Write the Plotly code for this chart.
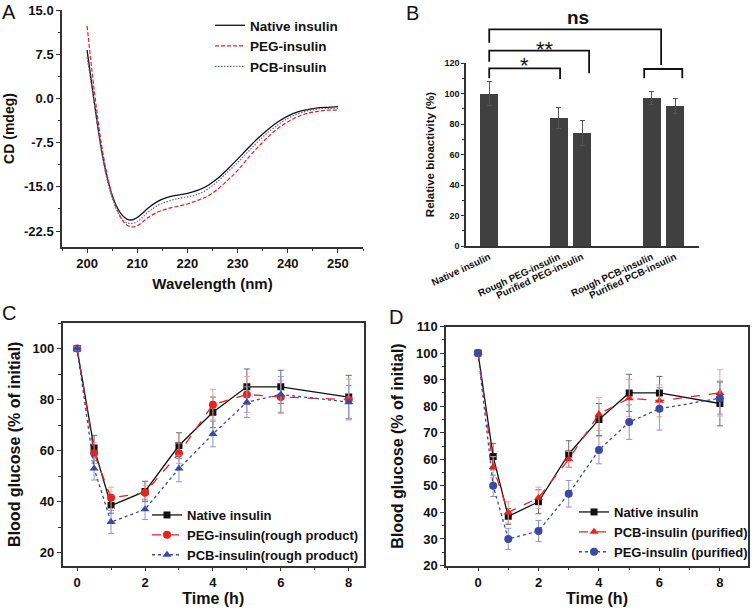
import plotly.graph_objects as go

W, H = 752, 613
FONT = "Liberation Sans, Arial, sans-serif"

# ---------------- Panel A: CD spectra ----------------
wavelength = [200, 201, 202, 203, 204, 205, 206, 207, 208, 209, 210, 211, 212, 214, 216,
              218, 220, 222, 224, 226, 228, 230, 232, 234, 236, 238, 240, 242, 244, 246, 248, 250]
cd_native = [8.2, 2.0, -4.0, -9.3, -13.4, -16.4, -18.5, -19.8, -20.5, -20.6, -20.2, -19.5, -18.7,
             -17.5, -16.8, -16.4, -16.1, -15.6, -14.8, -13.6, -12.0, -10.3, -8.5, -6.8, -5.3,
             -4.0, -3.0, -2.3, -1.9, -1.6, -1.5, -1.4]
cd_peg = [12.3, 4.5, -2.5, -8.5, -13.0, -16.5, -18.9, -20.6, -21.5, -21.8, -21.6, -21.0, -20.3,
          -19.3, -18.7, -18.3, -17.9, -17.3, -16.6, -15.4, -13.9, -12.2, -10.2, -8.3, -6.6,
          -5.1, -4.0, -3.1, -2.5, -2.2, -2.0, -2.0]
cd_pcb = [7.0, 1.5, -4.3, -9.6, -13.8, -16.9, -19.1, -20.5, -21.1, -21.2, -20.9, -20.2, -19.4,
          -18.2, -17.5, -17.0, -16.7, -16.3, -15.4, -14.1, -12.5, -10.9, -9.1, -7.4, -5.8,
          -4.5, -3.4, -2.6, -2.1, -1.8, -1.7, -1.7]
a_names = ["Native insulin", "PEG-insulin", "PCB-insulin"]

# ---------------- Panel B: relative bioactivity ----------------
b_labels = ["Native insulin", "Rough PEG-insulin", "Purified PEG-insulin",
            "Rough PCB-insulin", "Purified PCB-insulin"]
b_pos = [0, 3, 4, 7, 8]
b_values = [100, 84, 74, 97, 92]
b_errors = [8, 7, 8, 4, 5]

# ---------------- Panel C: blood glucose (rough products) ----------------
time_h = [0, 0.5, 1, 2, 3, 4, 5, 6, 8]
c_native = [100, 61, 38.5, 44, 62, 75, 85, 85, 81]
c_native_err = [0.8, 5, 3, 4, 5, 6, 7, 6.5, 8.5]
c_peg = [100, 59, 41.5, 43.5, 59, 78, 82, 81, 80]
c_peg_err = [0.8, 4, 4.2, 3, 4, 6, 7, 6.5, 8]
c_pcb = [100, 53, 32, 37, 53, 66.5, 79, 82, 79]
c_pcb_err = [0.8, 4.5, 4.5, 4, 5.2, 5, 6, 7, 6.5]
c_names = ["Native insulin", "PEG-insulin(rough product)", "PCB-insulin(rough product)"]

# ---------------- Panel D: blood glucose (purified) ----------------
d_native = [100, 61, 38.5, 44, 62, 75, 85, 85, 81]
d_native_err = [0.8, 5, 3, 4.5, 5, 6, 7, 6.2, 8.4]
d_pcb = [100, 57, 40, 45.5, 60, 77, 83, 82, 85]
d_pcb_err = [0.8, 4, 4, 4, 3, 6.2, 7, 6, 8.7]
d_peg = [100, 50, 30, 33, 47, 63.5, 74, 79, 83]
d_peg_err = [0.8, 4, 4, 4, 5, 5.2, 6.5, 8, 6]
d_names = ["Native insulin", "PCB-insulin (purified)", "PEG-insulin (purified)"]

BLACK = "#111111"
RED = "#e8231f"
BLUE = "#3a4aa0"
RED_LIGHT = "#e9a3a0"
BLUE_LIGHT = "#8e95c8"
GREY_ERR = "#6a6a6a"
BAR = "#404040"
AXC = "#333333"

fig = go.Figure()

# ---- A traces ----
fig.add_trace(go.Scatter(x=wavelength, y=cd_native, mode="lines", name=a_names[0],
                         line=dict(color=BLACK, width=1.3, shape="spline"),
                         xaxis="x", yaxis="y", legend="legend"))
fig.add_trace(go.Scatter(x=wavelength, y=cd_peg, mode="lines", name=a_names[1],
                         line=dict(color=RED, width=1.2, dash="4px,2px", shape="spline"),
                         xaxis="x", yaxis="y", legend="legend"))
fig.add_trace(go.Scatter(x=wavelength, y=cd_pcb, mode="lines", name=a_names[2],
                         line=dict(color="#5c6aa8", width=1.2, dash="1.5px,1.5px", shape="spline"),
                         xaxis="x", yaxis="y", legend="legend"))

# ---- B bars ----
fig.add_trace(go.Bar(x=b_pos, y=b_values, width=0.77, marker=dict(color=BAR, line=dict(width=0)),
                     error_y=dict(type="data", array=b_errors, color="#555555", thickness=1, width=2.5),
                     showlegend=False, xaxis="x2", yaxis="y2"))


def glucose(x, y, err, name, color, ecolor, symbol, dash, xa, ya, leg, msize):
    return go.Scatter(x=x, y=y, mode="lines+markers", name=name,
                      line=dict(color=color, width=1.3, dash=dash),
                      marker=dict(symbol=symbol, size=msize, color=color),
                      error_y=dict(type="data", array=err, color=ecolor, thickness=1, width=3),
                      xaxis=xa, yaxis=ya, legend=leg)


# ---- C traces ----
fig.add_trace(glucose(time_h, c_native, c_native_err, c_names[0], BLACK, GREY_ERR, "square", "solid", "x3", "y3", "legend2", 7))
fig.add_trace(glucose(time_h, c_peg, c_peg_err, c_names[1], RED, RED_LIGHT, "circle", "dash", "x3", "y3", "legend2", 8))
fig.add_trace(glucose(time_h, c_pcb, c_pcb_err, c_names[2], BLUE, BLUE_LIGHT, "triangle-up", "dot", "x3", "y3", "legend2", 8))

# ---- D traces ----
fig.add_trace(glucose(time_h, d_native, d_native_err, d_names[0], BLACK, GREY_ERR, "square", "solid", "x4", "y4", "legend3", 7))
fig.add_trace(glucose(time_h, d_pcb, d_pcb_err, d_names[1], RED, RED_LIGHT, "triangle-up", "dash", "x4", "y4", "legend3", 8))
fig.add_trace(glucose(time_h, d_peg, d_peg_err, d_names[2], BLUE, BLUE_LIGHT, "circle", "dot", "x4", "y4", "legend3", 8))


def px_x(p):
    return p / W


def px_y(p):
    return 1 - p / H


tickf = dict(family=FONT, size=13, color="#111", weight="bold")
titlef = dict(family=FONT, size=15, color="#111", weight="bold")

common = dict(showgrid=False, zeroline=False, showline=True, linecolor=AXC, linewidth=1.5,
              ticks="outside", ticklen=4, tickwidth=1.2, tickcolor=AXC, automargin=False)

layout = dict(
    width=W, height=H, margin=dict(l=0, r=0, t=0, b=0, autoexpand=False),
    paper_bgcolor="white", plot_bgcolor="white",
    font=dict(family=FONT, color="#111"),
    bargap=0,
    # Panel A
    xaxis=dict(domain=[px_x(62), px_x(363)], range=[195, 255], anchor="y",
               tickvals=[200, 210, 220, 230, 240, 250], tickfont=tickf,
               minor=dict(dtick=5, tick0=195, ticks="outside", ticklen=2.5, tickcolor=AXC),
               title=dict(text="Wavelength (nm)", font=titlef, standoff=8), **common),
    yaxis=dict(domain=[px_y(247), px_y(10)], range=[-25.2, 15], anchor="x",
               tickvals=[-22.5, -15, -7.5, 0, 7.5, 15], ticktext=["-22.5", "-15.0", "-7.5", "0.0", "7.5", "15.0"],
               tickfont=tickf,
               minor=dict(dtick=3.75, tick0=-22.5, ticks="outside", ticklen=2.5, tickcolor=AXC),
               title=dict(text="CD (mdeg)", font=dict(family=FONT, size=14, color="#111", weight="bold"), standoff=6),
               **common),
    # Panel B
    xaxis2=dict(domain=[px_x(466), px_x(699)], range=[-1, 9.03], anchor="y2",
                tickvals=b_pos, ticktext=b_labels, tickangle=-25, ticks="",
                tickfont=dict(family=FONT, size=9.8, color="#111", weight="bold"),
                showgrid=False, zeroline=False, showline=True, linecolor=AXC, linewidth=1.5,
                automargin=False),
    yaxis2=dict(domain=[px_y(246), px_y(63)], range=[0, 120], anchor="x2",
                dtick=20, tickfont=dict(family=FONT, size=9, color="#111", weight="bold"),
                minor=dict(dtick=10, ticks="outside", ticklen=2, tickcolor=AXC),
                title=dict(text="Relative bioactivity (%)", font=dict(family=FONT, size=11.5, color="#111", weight="bold"), standoff=7),
                showgrid=False, zeroline=False, showline=True, linecolor=AXC, linewidth=1.5,
                ticks="outside", ticklen=3, tickwidth=1, tickcolor=AXC, automargin=False),
    # Panel C
    xaxis3=dict(domain=[px_x(62.5), px_x(364)], range=[-0.43, 8.45], anchor="y3", mirror=True,
                tickvals=[0, 2, 4, 6, 8], tickfont=tickf,
                minor=dict(dtick=1, tick0=0, ticks="outside", ticklen=2.5, tickcolor=AXC),
                title=dict(text="Time (h)", font=dict(family=FONT, size=16, color="#111", weight="bold"), standoff=4),
                **common),
    yaxis3=dict(domain=[px_y(565.5), px_y(323)], range=[15, 110], anchor="x3", mirror=True,
                tickvals=[20, 40, 60, 80, 100], tickfont=tickf,
                minor=dict(dtick=10, tick0=0, ticks="outside", ticklen=2.5, tickcolor=AXC),
                title=dict(text="Blood glucose (% of initial)", font=dict(family=FONT, size=16, color="#111", weight="bold"), standoff=8),
                **common),
    # Panel D
    xaxis4=dict(domain=[px_x(446), px_x(748)], range=[-1.06, 8.93], anchor="y4", mirror=True,
                tickvals=[0, 2, 4, 6, 8], tickfont=tickf,
                minor=dict(dtick=1, tick0=0, ticks="outside", ticklen=2.5, tickcolor=AXC),
                title=dict(text="Time (h)", font=dict(family=FONT, size=16, color="#111", weight="bold"), standoff=4),
                **common),
    yaxis4=dict(domain=[px_y(565.5), px_y(326.5)], range=[20, 110], anchor="x4", mirror=True,
                dtick=10, tickfont=tickf,
                minor=dict(dtick=5, tick0=0, ticks="outside", ticklen=2.5, tickcolor=AXC),
                title=dict(text="Blood glucose (% of initial)", font=dict(family=FONT, size=16, color="#111", weight="bold"), standoff=8),
                **common),
    legend=dict(x=px_x(210), y=px_y(10), xanchor="left", yanchor="top", bgcolor="rgba(0,0,0,0)",
                font=dict(family=FONT, size=13.5, color="#111", weight="bold")),
    legend2=dict(x=px_x(147), y=px_y(570), xanchor="left", yanchor="bottom", bgcolor="rgba(0,0,0,0)",
                 font=dict(family=FONT, size=13, color="#111", weight="bold")),
    legend3=dict(x=px_x(574), y=px_y(567), xanchor="left", yanchor="bottom", bgcolor="rgba(0,0,0,0)",
                 font=dict(family=FONT, size=13, color="#111", weight="bold")),
)
fig.update_layout(**layout)

# Panel letters
for letter, lx, ly in [("A", 9, 12), ("B", 412, 13), ("C", 9, 313), ("D", 396, 317)]:
    fig.add_annotation(text=letter, x=px_x(lx), y=px_y(ly), xref="paper", yref="paper",
                       showarrow=False, xanchor="center", yanchor="middle",
                       font=dict(family=FONT, size=20, color="#111"))

# Significance brackets for panel B (x in bar-position units, y in paper units)
brackets = [
    # (x_left, x_right, y_top_px, y_left_bottom_px, y_right_bottom_px)
    (0, 7.4, 29.3, 42.7, 65),
    (0, 4.3, 50.7, 61.7, 73.3),
    (0, 3.05, 68.3, 78.3, 79),
    (6.67, 8.31, 69, 78.3, 78.3),
]
for xl, xr, yt, yl, yr in brackets:
    path = (f"M {xl} {px_y(yl)} L {xl} {px_y(yt)} L {xr} {px_y(yt)} L {xr} {px_y(yr)}")
    fig.add_shape(type="path", path=path, xref="x2", yref="paper",
                  line=dict(color="#111", width=1.8))

fig.add_annotation(text="ns", x=3.8, y=px_y(18), xref="x2", yref="paper", showarrow=False,
                   xanchor="center", yanchor="middle",
                   font=dict(family=FONT, size=19, color="#111", weight="bold"))
fig.add_annotation(text="**", x=2.4, y=px_y(50), xref="x2", yref="paper", showarrow=False,
                   xanchor="center", yanchor="middle",
                   font=dict(family=FONT, size=22, color="#111"))
fig.add_annotation(text="*", x=1.52, y=px_y(65), xref="x2", yref="paper", showarrow=False,
                   xanchor="center", yanchor="middle",
                   font=dict(family=FONT, size=22, color="#111"))

fig.write_html("out.html", config={"displayModeBar": False},
               post_script="document.body.style.margin='0';document.body.style.overflow='hidden';")
